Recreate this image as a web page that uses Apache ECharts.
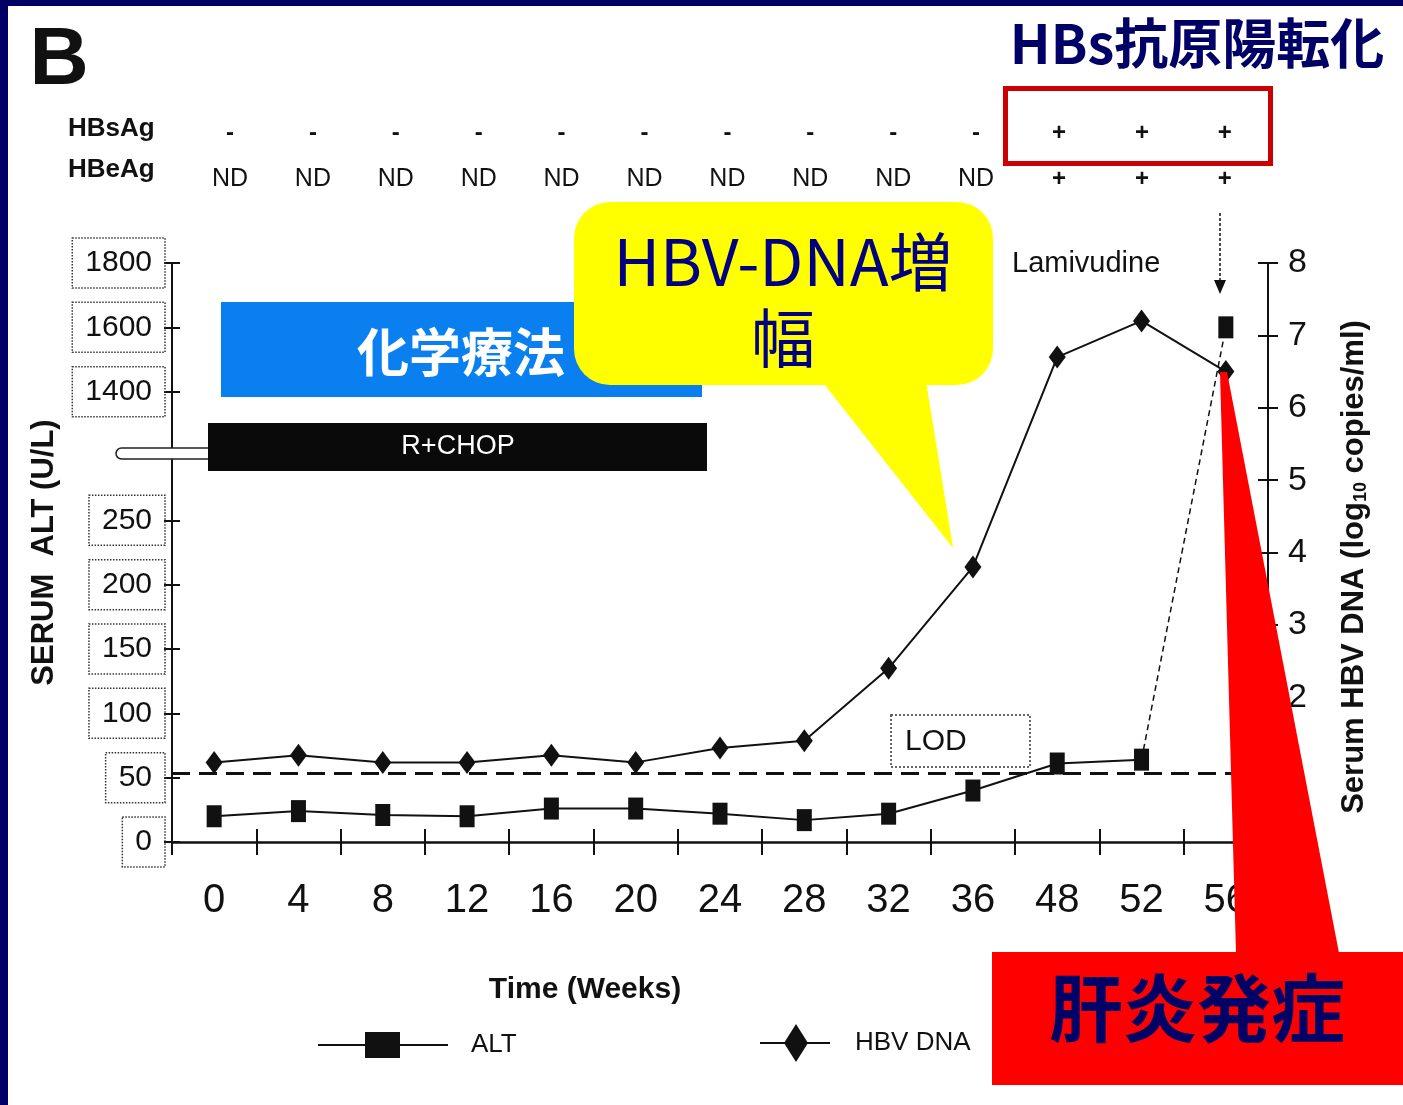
<!DOCTYPE html>
<html>
<head>
<meta charset="utf-8">
<script src="https://cdn.jsdelivr.net/npm/echarts@6/dist/echarts.min.js"></script>
<style>
  html, body { margin: 0; padding: 0; background: #ffffff; }
  #chart { width: 1403px; height: 1105px; }
</style>
</head>
<body>
<div id="chart"></div>
<script>
// ---- data ----
const weeks = ['0', '4', '8', '12', '16', '20', '24', '28', '32', '36', '48', '52', '56'];
const altValues = [20, 24, 21, 20, 26, 26, 22, 17, 22, 40, 61, 64, 1600];          // U/L
const hbvDnaValues = [1.1, 1.2, 1.1, 1.1, 1.2, 1.1, 1.3, 1.4, 2.4, 3.8, 6.7, 7.2, 6.5]; // log10 copies/ml
const hbsAgStatus = ['-', '-', '-', '-', '-', '-', '-', '-', '-', '-', '+', '+', '+'];
const hbeAgStatus = ['ND', 'ND', 'ND', 'ND', 'ND', 'ND', 'ND', 'ND', 'ND', 'ND', '+', '+', '+'];
const altTickLabels = [0, 50, 100, 150, 200, 250, 1400, 1600, 1800];
const dnaTickLabels = [2, 3, 4, 5, 6, 7, 8];
const lodLevel = 0.95;          // limit of detection (log10 copies/ml)
const altDashedFrom = 11;       // last ALT segment (52 -> 56 wk) is drawn dashed

// ---- broken ALT axis: 0-300 linear, then 1400+ compressed 4:1 ----
function altToAxis(v) { return v <= 300 ? v : 350 + (v - 1400) / 4; }
function axisToAlt(u) { return u <= 300 ? u : 1400 + (u - 350) * 4; }
const altAxisTicks = altTickLabels.map(altToAxis);

const SANS = "'Liberation Sans', Arial, sans-serif";
const CJK = "'Noto Sans CJK JP', 'Noto Sans', sans-serif";

const altSolid = altValues.map((v, i) => (i <= altDashedFrom ? altToAxis(v) : '-'));
const altDashed = altValues.map((v, i) => (i < altDashedFrom ? '-' :
  (i === altDashedFrom ? { value: altToAxis(v), symbol: 'none' } : altToAxis(v))));

// header rows positions
const headerX0 = 230, headerStep = 82.9;

const chart = echarts.init(document.getElementById('chart'), null, { renderer: 'canvas' });

const headerTexts = [];
hbsAgStatus.forEach((s, i) => {
  headerTexts.push({
    type: 'text', x: headerX0 + i * headerStep, y: 133, z: 100,
    style: { text: s, fill: '#111', fontSize: 24, fontWeight: 'bold', fontFamily: SANS, align: 'center', verticalAlign: 'middle' }
  });
});
hbeAgStatus.forEach((s, i) => {
  headerTexts.push({
    type: 'text', x: headerX0 + i * headerStep, y: 179, z: 100,
    style: { text: s, fill: '#111', fontSize: s === 'ND' ? 25 : 24, fontWeight: s === 'ND' ? 'normal' : 'bold', fontFamily: SANS, align: 'center', verticalAlign: 'middle' }
  });
});

const option = {
  animation: false,
  backgroundColor: '#ffffff',
  grid: { left: 172, right: 135, top: 263, bottom: 263, containLabel: false },
  xAxis: [
    {
      type: 'category', data: weeks, position: 'bottom', boundaryGap: true,
      axisLine: { lineStyle: { color: '#111', width: 2.5 } },
      axisTick: { show: true, interval: 0, length: 13, lineStyle: { color: '#111', width: 2 } },
      axisLabel: { interval: 0, margin: 39, fontSize: 40, color: '#111', fontFamily: SANS },
      splitLine: { show: false }
    },
    {
      type: 'category', data: weeks, position: 'bottom', boundaryGap: true,
      axisLine: { show: false },
      axisTick: { show: true, inside: true, interval: 0, length: 13, lineStyle: { color: '#111', width: 2 } },
      axisLabel: { show: false },
      splitLine: { show: false }
    }
  ],
  yAxis: [
    {
      type: 'value', position: 'left', min: 0, max: altToAxis(1800),
      name: 'SERUM  ALT (U/L)', nameLocation: 'middle', nameGap: 112, nameRotate: 90,
      nameTextStyle: { fontSize: 31, fontWeight: 'bold', color: '#111', fontFamily: SANS },
      axisLine: { show: true, lineStyle: { color: '#111', width: 2 } },
      axisTick: { show: true, length: 8, customValues: altAxisTicks, lineStyle: { color: '#111', width: 2 } },
      axisLabel: {
        customValues: altAxisTicks, margin: 7,
        formatter: (u) => String(Math.round(axisToAlt(u))),
        fontSize: 30, lineHeight: 34, color: '#111', fontFamily: SANS,
        borderColor: '#333', borderWidth: 1.5, borderType: 'dotted', padding: [8, 13, 8, 13]
      },
      splitLine: { show: false }
    },
    {
      type: 'value', position: 'right', min: 0, max: 8,
      name: '{a|Serum HBV DNA (log}{s|10}{a| copies/ml)}', nameLocation: 'middle', nameGap: 71, nameRotate: 90,
      nameTextStyle: {
        padding: [0, 29, 0, 0],
        rich: {
          a: { fontSize: 31, fontWeight: 'bold', color: '#111', fontFamily: SANS },
          s: { fontSize: 18, fontWeight: 'bold', color: '#111', fontFamily: SANS, verticalAlign: 'bottom' }
        }
      },
      axisLine: { show: true, lineStyle: { color: '#111', width: 2 } },
      axisTick: { show: true, length: 10, customValues: dnaTickLabels, lineStyle: { color: '#111', width: 2 } },
      axisLabel: { customValues: dnaTickLabels, margin: 20, fontSize: 34, color: '#111', fontFamily: SANS },
      splitLine: { show: false }
    },
    {
      type: 'value', position: 'left', min: 0, max: altToAxis(1800),
      axisLine: { show: false },
      axisTick: { show: true, inside: true, length: 8, customValues: altAxisTicks, lineStyle: { color: '#111', width: 2 } },
      axisLabel: { show: false }, splitLine: { show: false }
    },
    {
      type: 'value', position: 'right', min: 0, max: 8,
      axisLine: { show: false },
      axisTick: { show: true, inside: true, length: 10, customValues: dnaTickLabels, lineStyle: { color: '#111', width: 2 } },
      axisLabel: { show: false }, splitLine: { show: false }
    }
  ],
  legend: [
    {
      left: 318, top: 1032, padding: 0, orient: 'horizontal', selectedMode: false,
      itemWidth: 130, itemHeight: 26,
      data: [{ name: 'ALT', icon: 'path://M0,12h130v2H0z M47,0h35v26H47z' }],
      textStyle: { fontSize: 26, color: '#111', fontFamily: SANS, padding: [0, 0, 0, 18] }
    },
    {
      left: 760, top: 1024, padding: 0, orient: 'horizontal', selectedMode: false,
      itemWidth: 70, itemHeight: 38,
      data: [{ name: 'HBV DNA', icon: 'path://M0,18h70v2H0z M36,0L48,19L36,38L24,19z' }],
      textStyle: { fontSize: 26, color: '#111', fontFamily: SANS, padding: [0, 0, 0, 20] }
    }
  ],
  series: [
    {
      name: 'ALT', type: 'line', xAxisIndex: 0, yAxisIndex: 0, data: altSolid,
      symbol: 'rect', symbolSize: [15, 22], color: '#111',
      lineStyle: { color: '#111', width: 2 }, itemStyle: { color: '#111' }, z: 3
    },
    {
      name: 'ALT', type: 'line', xAxisIndex: 0, yAxisIndex: 0, data: altDashed,
      symbol: 'rect', symbolSize: [15, 22], color: '#111',
      lineStyle: { color: '#111', width: 1.5, type: [6, 4] }, itemStyle: { color: '#111' }, z: 3
    },
    {
      name: 'HBV DNA', type: 'line', xAxisIndex: 0, yAxisIndex: 1, data: hbvDnaValues,
      symbol: 'diamond', symbolSize: [17, 23], color: '#111',
      lineStyle: { color: '#111', width: 2 }, itemStyle: { color: '#111' }, z: 3,
      markLine: {
        silent: true, symbol: 'none', label: { show: false },
        lineStyle: { color: '#111', width: 3, type: [18, 9] },
        data: [{ yAxis: lodLevel }]
      }
    }
  ],
  graphic: [
    // frame
    { type: 'rect', z: 200, shape: { x: 0, y: 0, width: 1403, height: 6 }, style: { fill: '#000066' } },
    { type: 'rect', z: 200, shape: { x: 0, y: 0, width: 8, height: 1105 }, style: { fill: '#000066' } },
    // panel letter
    { type: 'text', z: 100, x: 59, y: 61, style: { text: 'B', fill: '#111', fontSize: 82, fontWeight: 'bold', fontFamily: SANS, align: 'center', verticalAlign: 'middle' } },
    // header labels
    { type: 'text', z: 100, x: 68, y: 129, style: { text: 'HBsAg', fill: '#111', fontSize: 26, fontWeight: 'bold', fontFamily: SANS, align: 'left', verticalAlign: 'middle' } },
    { type: 'text', z: 100, x: 68, y: 170, style: { text: 'HBeAg', fill: '#111', fontSize: 26, fontWeight: 'bold', fontFamily: SANS, align: 'left', verticalAlign: 'middle' } },
    ...headerTexts,
    // seroconversion highlight
    { type: 'text', z: 100, x: 1197, y: 43, style: { text: 'HBs抗原陽転化', fill: '#000066', fontSize: 54, fontWeight: 'bold', fontFamily: CJK, align: 'center', verticalAlign: 'middle' } },
    { type: 'rect', z: 100, shape: { x: 1005.5, y: 88.5, width: 265, height: 75 }, style: { fill: 'none', stroke: '#cc0000', lineWidth: 5 } },
    // lamivudine start
    { type: 'text', z: 100, x: 1012, y: 264, style: { text: 'Lamivudine', fill: '#111', fontSize: 29, fontFamily: SANS, align: 'left', verticalAlign: 'middle' } },
    { type: 'line', z: 100, shape: { x1: 1220, y1: 213, x2: 1220, y2: 284 }, style: { stroke: '#111', lineWidth: 1.5, lineDash: [3, 2] } },
    { type: 'polygon', z: 100, shape: { points: [[1214, 280], [1226, 280], [1220, 294]] }, style: { fill: '#111' } },
    // chemotherapy period
    { type: 'rect', z: 100, shape: { x: 221, y: 302, width: 481, height: 95 }, style: { fill: '#0a80f0' } },
    { type: 'text', z: 101, x: 461, y: 352, style: { text: '化学療法', fill: '#ffffff', fontSize: 52, fontWeight: 'bold', fontFamily: CJK, align: 'center', verticalAlign: 'middle' } },
    // HBV-DNA callout
    { type: 'rect', z: 110, shape: { x: 574, y: 202, width: 419, height: 183, r: 36 }, style: { fill: '#ffff00' } },
    { type: 'polygon', z: 110, shape: { points: [[817, 375], [925, 375], [953, 548]] }, style: { fill: '#ffff00' } },
    { type: 'text', z: 111, x: 783, y: 262, style: { text: 'HBV-DNA増', fill: '#000080', fontSize: 64, fontFamily: CJK, align: 'center', verticalAlign: 'middle' } },
    { type: 'text', z: 111, x: 783, y: 338, style: { text: '幅', fill: '#000080', fontSize: 64, fontFamily: CJK, align: 'center', verticalAlign: 'middle' } },
    // axis break marker
    { type: 'rect', z: 100, shape: { x: 116, y: 448, width: 100, height: 11, r: [6, 0, 0, 6] }, style: { fill: '#ffffff', stroke: '#222', lineWidth: 1.5 } },
    // R+CHOP bar
    { type: 'rect', z: 102, shape: { x: 208, y: 423, width: 499, height: 48 }, style: { fill: '#0a0a0a' } },
    { type: 'text', z: 103, x: 458, y: 447, style: { text: 'R+CHOP', fill: '#ffffff', fontSize: 27, fontFamily: SANS, align: 'center', verticalAlign: 'middle' } },
    // LOD label
    { type: 'rect', z: 100, shape: { x: 891, y: 715, width: 139, height: 52 }, style: { fill: 'none', stroke: '#333', lineWidth: 1.5, lineDash: [2, 2] } },
    { type: 'text', z: 100, x: 905, y: 742, style: { text: 'LOD', fill: '#111', fontSize: 30, fontFamily: SANS, align: 'left', verticalAlign: 'middle' } },
    // x axis title
    { type: 'text', z: 100, x: 585, y: 990, style: { text: 'Time (Weeks)', fill: '#111', fontSize: 30, fontWeight: 'bold', fontFamily: SANS, align: 'center', verticalAlign: 'middle' } },
    // hepatitis onset callout
    { type: 'polygon', z: 120, shape: { points: [[1220, 372], [1227, 372], [1339, 953], [1236, 953]] }, style: { fill: '#ff0000' } },
    { type: 'rect', z: 120, shape: { x: 992, y: 952, width: 411, height: 133 }, style: { fill: '#ff0000' } },
    { type: 'text', z: 121, x: 1197, y: 1008, style: { text: '肝炎発症', fill: '#000066', fontSize: 74, fontWeight: 'bold', fontFamily: CJK, align: 'center', verticalAlign: 'middle' } }
  ]
};

chart.setOption(option);
</script>
</body>
</html>
